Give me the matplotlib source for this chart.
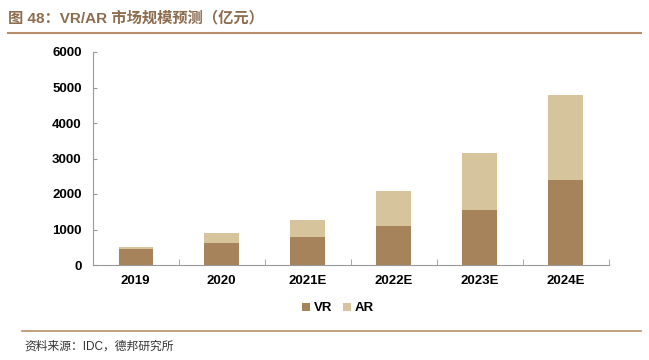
import matplotlib
matplotlib.use('Agg')
import matplotlib.pyplot as plt
import numpy as np

plt.rcParams['font.family'] = ['Liberation Sans', 'Noto Sans CJK SC', 'DejaVu Sans']

# data (亿元)
years = ['2019', '2020', '2021E', '2022E', '2023E', '2024E']
vr = [440, 610, 790, 1100, 1550, 2395]
ar = [75, 300, 480, 995, 1600, 2395]

c_vr = '#a6835b'
c_ar = '#d5c49c'
c_line = '#b88f6a'

fig = plt.figure(figsize=(6.49, 3.6), dpi=100)
ax = fig.add_axes([92.7 / 649, 95 / 360, 516 / 649, 213 / 360])

x = np.arange(len(years))
ax.bar(x, vr, width=0.4, color=c_vr, label='VR', zorder=3)
ax.bar(x, ar, width=0.4, bottom=vr, color=c_ar, label='AR', zorder=3)

ax.set_xlim(-0.5, len(years) - 0.5)
ax.set_ylim(0, 6000)
ax.set_yticks(range(0, 6001, 1000))
ax.set_xticks(x)
ax.set_xticklabels(years, fontsize=9.5, fontweight='bold')
ax.set_xticks(np.arange(-0.5, len(years), 1), minor=True)
ax.tick_params(axis='x', which='major', length=0, pad=7)
ax.tick_params(axis='x', which='minor', direction='in', length=4, color='#999999')
ax.tick_params(axis='y', direction='in', length=3, color='#999999', labelsize=9.5, pad=8)
for lbl in ax.get_yticklabels():
    lbl.set_fontweight('bold')

for s in ['top', 'right']:
    ax.spines[s].set_visible(False)
for s in ['left', 'bottom']:
    ax.spines[s].set_color('#999999')
    ax.spines[s].set_linewidth(0.8)

ax.legend(loc='upper center', bbox_to_anchor=(0.475, -0.12), ncol=2, frameon=False,
          handlelength=0.6, handleheight=0.6, handletextpad=0.3, columnspacing=0.8,
          prop={'weight': 'bold', 'size': 9.5})

# title and source
fig.text(8 / 649, 1 - 18 / 360, '图 48：VR/AR 市场规模预测（亿元）', fontsize=11,
         fontweight='bold', color='#8c6d4f', va='center', ha='left')
fig.add_artist(plt.Line2D([8 / 649, 641 / 649], [1 - 33 / 360, 1 - 33 / 360],
                          color=c_line, linewidth=1.5))
fig.add_artist(plt.Line2D([22 / 649, 641 / 649], [1 - 331 / 360, 1 - 331 / 360],
                          color=c_line, linewidth=1.2))
fig.text(24 / 649, 1 - 347 / 360, '资料来源：IDC，德邦研究所', fontsize=8.5,
         color='#333333', va='center', ha='left')

fig.savefig('out.png', dpi=100)
